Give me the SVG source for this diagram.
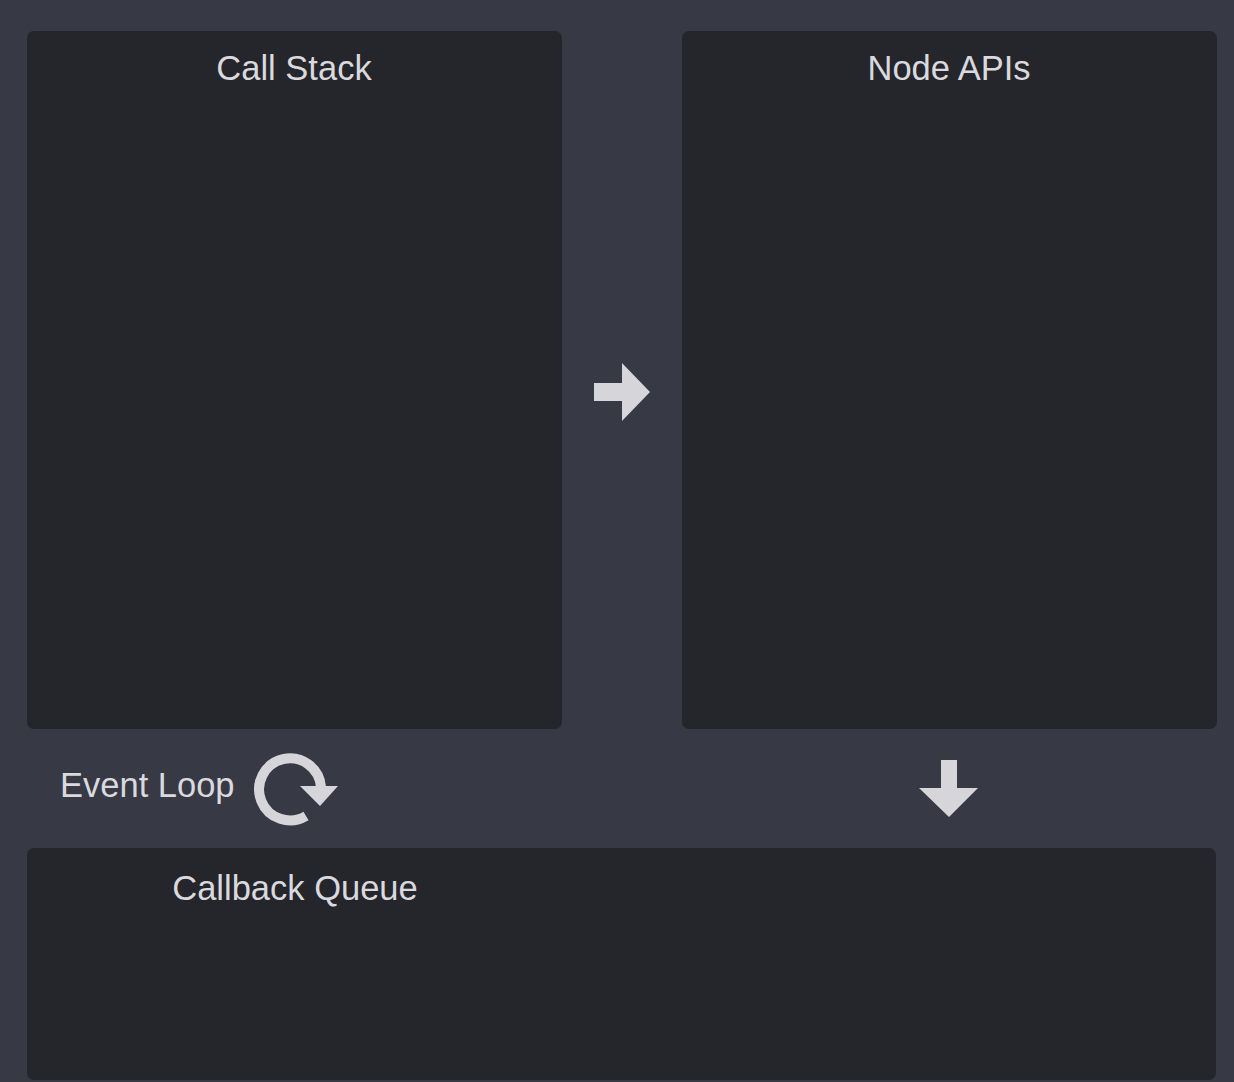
<svg xmlns="http://www.w3.org/2000/svg" width="1234" height="1082" viewBox="0 0 1234 1082">
<style>
.box{fill:#25262c}
.lbl{font-family:"Liberation Sans",Arial,sans-serif;font-size:34.5px;fill:#d9d9de}
.icon{fill:#d6d6da}
</style>
<rect x="0" y="0" width="1234" height="1082" fill="#373945"/>
<g id="call-stack">
<rect class="box" x="27" y="31" width="535" height="698" rx="7"/>
<text class="lbl" x="294" y="80" text-anchor="middle">Call Stack</text>
</g>
<g id="node-apis">
<rect class="box" x="682" y="31" width="535" height="698" rx="7"/>
<text class="lbl" x="949" y="80" text-anchor="middle">Node APIs</text>
</g>
<g id="callback-queue">
<rect class="box" x="27" y="848" width="1189" height="232" rx="7"/>
<text class="lbl" x="295" y="900" text-anchor="middle">Callback Queue</text>
</g>
<g id="event-loop">
<text class="lbl" x="60" y="797">Event Loop</text>
<path d="M321 787 A31 31 0 1 0 306 816" fill="none" stroke="#d6d6da" stroke-width="10"/>
<polygon class="icon" points="300,786 338,786 320,806"/>
</g>
<g id="connectors">
<polygon class="icon" points="594,383 622,383 622,363 650,392 622,421 622,401 594,401"/>
<polygon class="icon" points="941,760 957,760 957,788 978,788 949,817 919,788 941,788"/>
</g>
</svg>
